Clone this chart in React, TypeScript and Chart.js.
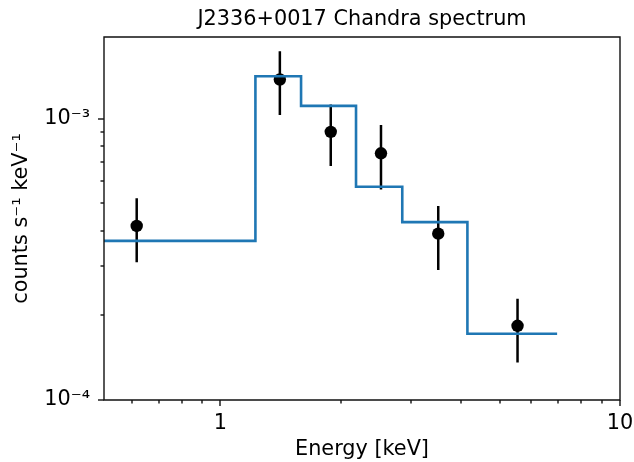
import React, { useEffect, useRef } from "react";
import { Chart, registerables } from "chart.js";

Chart.register(...registerables);

const TITLE = "J2336+0017 Chandra spectrum";
const X_LABEL = "Energy [keV]";
const Y_LABEL = "counts s\u207B\u00B9 keV\u207B\u00B9";

// observed data points (keV, counts s^-1 keV^-1)
const energies = [0.617, 1.408, 1.888, 2.522, 3.508, 5.54];
const counts = [4.16e-4, 1.38e-3, 8.99e-4, 7.54e-4, 3.905e-4, 1.836e-4];
const errLow = [3.09e-4, 1.031e-3, 6.79e-4, 5.61e-4, 2.9e-4, 1.36e-4];
const errHigh = [5.22e-4, 1.74e-3, 1.125e-3, 9.5e-4, 4.9e-4, 2.29e-4];

// model step function
const binEdges = [0.5, 1.223, 1.591, 2.184, 2.851, 4.15, 6.96];
const modelLevels = [3.68e-4, 1.418e-3, 1.112e-3, 5.73e-4, 4.29e-4, 1.72e-4];

// ticks
const xMajorTicks = [1, 10];
const xTickLabels = ["1", "10"];
const xMinorTicks = [0.6, 0.7, 0.8, 0.9, 2, 3, 4, 5, 6, 7, 8, 9];
const yMajorTicks = [1e-4, 1e-3];
const yTickLabels = ["10\u207B\u2074", "10\u207B\u00B3"];
const yMinorTicks = [2e-4, 3e-4, 4e-4, 5e-4, 6e-4, 7e-4, 8e-4, 9e-4];

const X_MIN = 0.511;
const X_MAX = 10;
const Y_MIN = 1e-4;
const Y_MAX = 1.955e-3;

const FONT = "'DejaVu Sans', sans-serif";
const FS = 20.8;

const framePlugin = {
  id: "frameTicks",
  afterDatasetsDraw(chart: any) {
    const { ctx, chartArea } = chart;
    const xs = chart.scales.x;
    const ys = chart.scales.y;
    const { left, right, top, bottom } = chartArea;
    ctx.save();
    ctx.strokeStyle = "#111";
    ctx.lineWidth = 1.4;
    ctx.beginPath();
    ctx.rect(left, top, right - left, bottom - top);
    ctx.stroke();
    const drawX = (vals: number[], len: number) => {
      for (const v of vals) {
        const px = Math.round(xs.getPixelForValue(v));
        ctx.beginPath();
        ctx.moveTo(px, bottom);
        ctx.lineTo(px, bottom + len);
        ctx.stroke();
      }
    };
    const drawY = (vals: number[], len: number) => {
      for (const v of vals) {
        const py = Math.round(ys.getPixelForValue(v));
        ctx.beginPath();
        ctx.moveTo(left, py);
        ctx.lineTo(left - len, py);
        ctx.stroke();
      }
    };
    drawX(xMajorTicks, 6);
    drawX(xMinorTicks, 3.5);
    drawY(yMajorTicks, 6);
    drawY(yMinorTicks, 3.5);
    ctx.restore();
  },
};

export default function App() {
  const ref = useRef<HTMLCanvasElement | null>(null);

  useEffect(() => {
    if (!ref.current) return;
    const modelData = binEdges.map((e, i) => ({
      x: e,
      y: modelLevels[Math.min(i, modelLevels.length - 1)],
    }));
    const errData: any[] = [];
    energies.forEach((e, i) => {
      errData.push({ x: e, y: errLow[i] });
      errData.push({ x: e, y: errHigh[i] });
      errData.push({ x: e, y: null });
    });
    const pointData = energies.map((e, i) => ({ x: e, y: counts[i] }));

    const chart = new Chart(ref.current, {
      type: "scatter",
      data: {
        datasets: [
          {
            label: "model",
            data: modelData,
            showLine: true,
            stepped: true,
            borderColor: "#1f77b4",
            borderWidth: 2.6,
            pointRadius: 0,
            fill: false,
          } as any,
          {
            label: "data",
            data: pointData,
            showLine: false,
            pointRadius: 6.2,
            pointBackgroundColor: "#000",
            pointBorderWidth: 0,
            pointBorderColor: "#000",
          } as any,
          {
            label: "errors",
            data: errData,
            showLine: true,
            spanGaps: false,
            borderColor: "#000",
            borderWidth: 2.5,
            pointRadius: 0,
            fill: false,
          } as any,
        ],
      },
      options: {
        animation: false,
        responsive: false,
        devicePixelRatio: 1,
        layout: { padding: { top: 0, right: 14, bottom: 0, left: 0 } },
        plugins: {
          legend: { display: false },
          tooltip: { enabled: false },
          title: {
            display: true,
            fullSize: false,
            text: TITLE,
            color: "#000",
            font: { family: FONT, size: FS, weight: "normal" },
            padding: { top: 7, bottom: 5 },
          },
        },
        scales: {
          x: {
            type: "logarithmic",
            position: "bottom",
            min: X_MIN,
            max: X_MAX,
            afterBuildTicks: (s: any) => {
              s.ticks = xMajorTicks.map((v) => ({ value: v, major: true }));
            },
            afterFit: (s: any) => {
              s.height = 62;
              s.paddingLeft = 0;
              s.paddingRight = 0;
            },
            ticks: {
              autoSkip: false,
              maxRotation: 0,
              padding: 11,
              color: "#000",
              font: { family: FONT, size: FS },
              callback: (v: any) => {
                const i = xMajorTicks.indexOf(Number(v));
                return i >= 0 ? xTickLabels[i] : "";
              },
            },
            grid: { display: false, drawTicks: false },
            border: { display: false },
            title: {
              display: true,
              text: X_LABEL,
              color: "#000",
              font: { family: FONT, size: FS },
              padding: { top: 0, bottom: 0 },
            },
          },
          y: {
            type: "logarithmic",
            position: "left",
            min: Y_MIN,
            max: Y_MAX,
            afterBuildTicks: (s: any) => {
              s.ticks = yMajorTicks.map((v) => ({ value: v, major: true }));
            },
            afterFit: (s: any) => {
              s.width = 104;
              s.paddingTop = 0;
              s.paddingBottom = 0;
            },
            ticks: {
              autoSkip: false,
              padding: 14,
              color: "#000",
              font: { family: FONT, size: FS },
              callback: (v: any) => {
                const n = Number(v);
                const i = yMajorTicks.findIndex((t) => Math.abs(t - n) / t < 1e-6);
                return i >= 0 ? yTickLabels[i] : "";
              },
            },
            grid: { display: false, drawTicks: false },
            border: { display: false },
            title: {
              display: true,
              text: Y_LABEL,
              color: "#000",
              font: { family: FONT, size: FS },
              padding: { top: 9.5, bottom: 0 },
            },
          },
        },
      } as any,
      plugins: [framePlugin],
    });
    return () => chart.destroy();
  }, []);

  return (
    <div style={{ position: "fixed", left: 0, top: 0, width: 634, height: 462, background: "#fff" }}>
      <canvas ref={ref} width={634} height={462} style={{ display: "block" }} />
    </div>
  );
}
